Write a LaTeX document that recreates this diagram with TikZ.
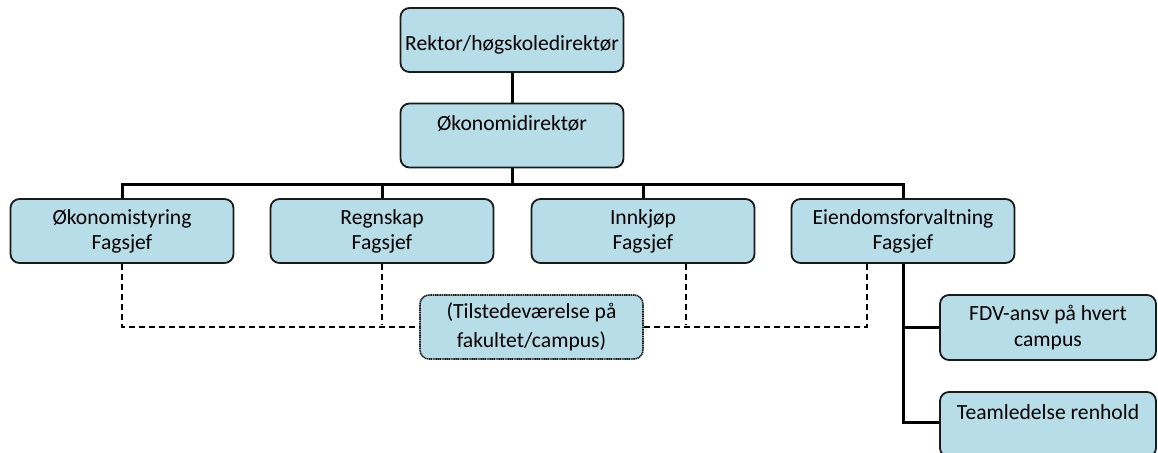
\documentclass[tikz,border=0pt]{standalone}
\usepackage{fontspec}
\setmainfont{Carlito}
\definecolor{boxfill}{HTML}{B7DEE8}
\definecolor{boxline}{HTML}{1A1A1A}
\tikzset{
  unit/.style={draw=boxline, fill=boxfill, line width=1.8pt, rounded corners=9pt,
    align=center, inner sep=0pt, font=\fontsize{21.6}{25.2}\selectfont},
  orgbox/.style={unit, minimum width=223pt, minimum height=64pt},
  subbox/.style={unit, minimum width=216pt, minimum height=65pt},
  notebox/.style={unit, minimum width=223pt, minimum height=64pt,
    dash pattern=on 1.2pt off 0.6pt, line width=1.6pt,
    font=\fontsize{21.6}{29}\selectfont},
  solidlink/.style={draw=black, line width=3pt},
  dashlink/.style={draw=black, line width=2pt, dash pattern=on 6pt off 4pt}
}
\begin{document}
\begin{tikzpicture}[x=1pt, y=-1pt]
  \useasboundingbox (0,0) rectangle (1158,452);
  \clip (0,0) rectangle (1158,452);

  % management chain
  \node[orgbox] (rektor) at (512,40) {\mbox{}\\Rektor/høgskoledirektør};
  \node[orgbox] (okdir) at (512,135.5) {Økonomidirektør\\\mbox{}};

  % department heads
  \node[orgbox] (okst) at (122,231) {Økonomistyring\\Fagsjef};
  \node[orgbox] (regn) at (382,231) {Regnskap\\Fagsjef};
  \node[orgbox] (innk) at (643,231) {Innkjøp\\Fagsjef};
  \node[orgbox] (eien) at (903,231) {Eiendomsforvaltning\\Fagsjef};

  % local presence
  \node[notebox] (tilst) at (531.5,327) {(Tilstedeværelse på\\fakultet/campus)};

  % property management units
  \node[subbox] (fdv) at (1048,327.5) {FDV-ansv på hvert\\campus};
  \node[subbox] (team) at (1048,424.5) {Teamledelse renhold\\\mbox{}};

  % reporting lines
  \coordinate (bar) at (okdir.south |- 0,184);
  \draw[solidlink] (rektor.south) -- (okdir.north);
  \draw[solidlink] (okdir.south) -- (bar);
  \draw[solidlink] (okst.north) |- (bar) -| (eien.north);
  \draw[solidlink] (regn.north) -- (regn.north |- bar);
  \draw[solidlink] (innk.north) -- (innk.north |- bar);
  \coordinate (stem) at (eien.south |- 0,422);
  \draw[solidlink] (eien.south) -- (stem) -- (team.west |- stem);
  \draw[solidlink] (eien.south |- fdv.west) -- (fdv.west);

  % dashed links to local presence
  \coordinate (dl) at (okst.south |- 0,327);
  \coordinate (dr) at (867,327);
  \draw[dashlink] (okst.south) -- (dl) -- (tilst.west |- dl);
  \draw[dashlink] (regn.south) -- (regn.south |- 0,325);
  \draw[dashlink] (dr |- eien.south) -- (dr) -- (tilst.east |- dr);
  \draw[dashlink] (686,0 |- innk.south) -- (686,325);
\end{tikzpicture}
\end{document}
